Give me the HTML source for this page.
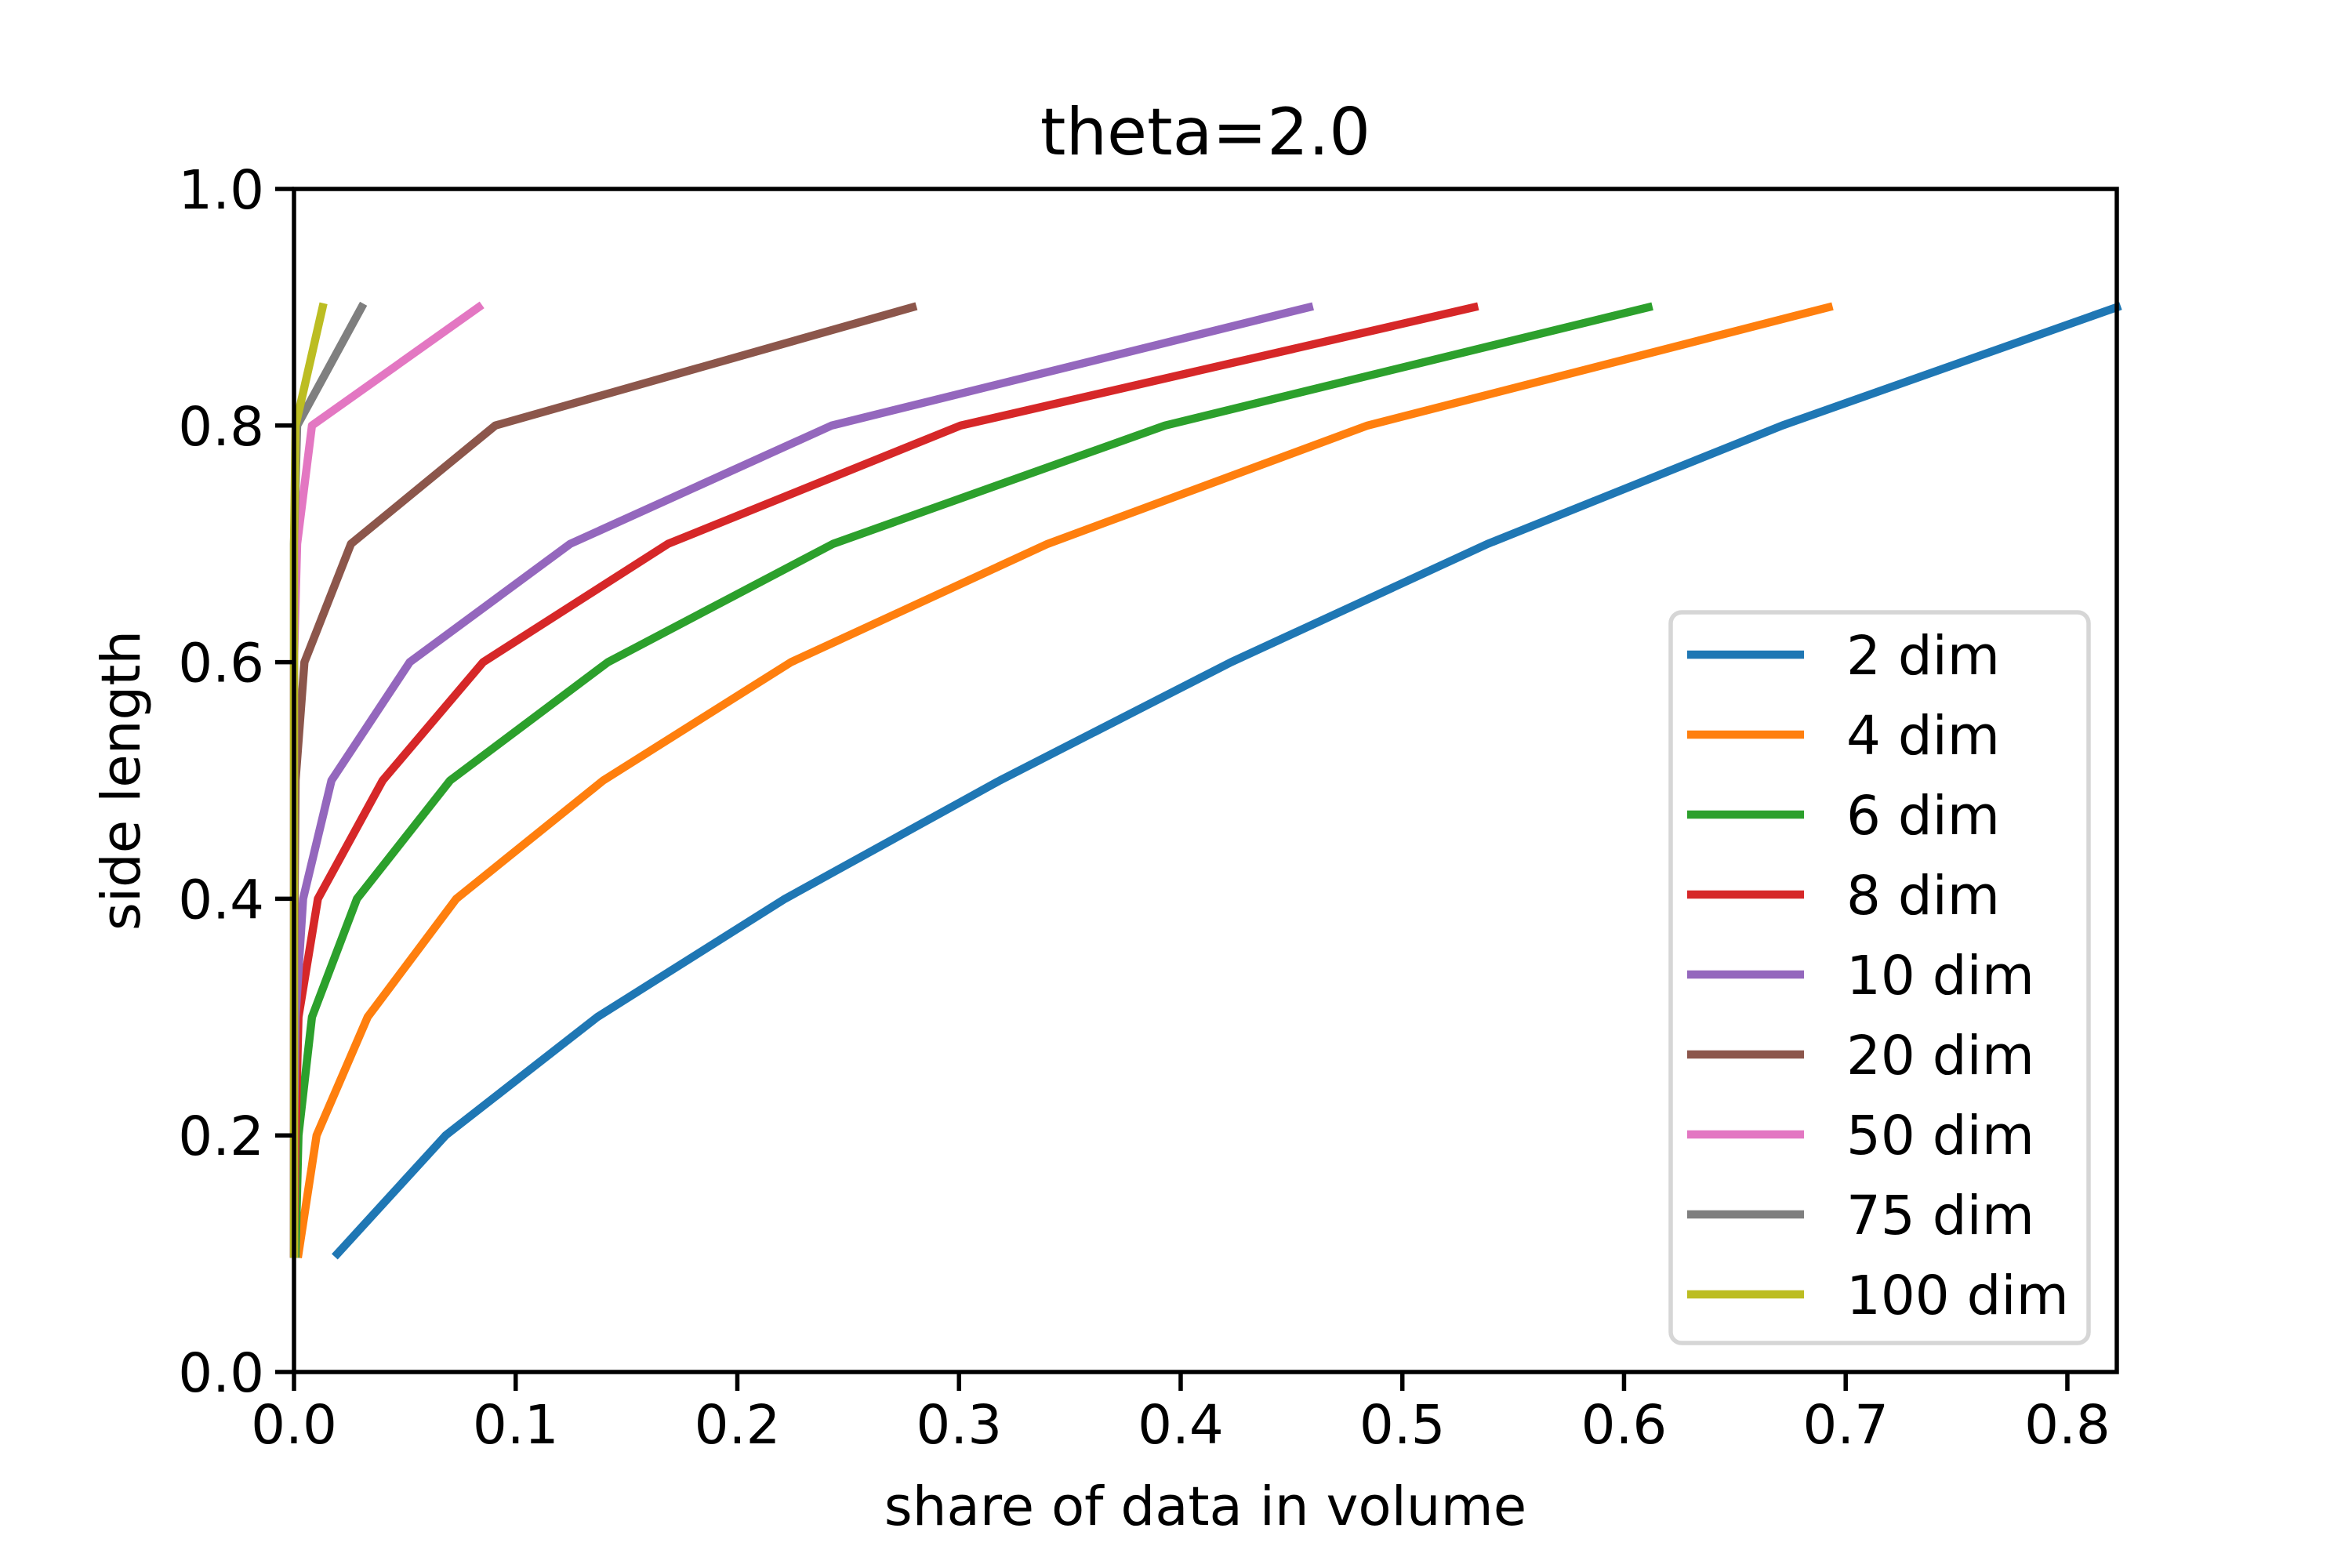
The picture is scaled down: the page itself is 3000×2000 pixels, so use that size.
<!DOCTYPE html>
<html><head><meta charset="utf-8"><style>
html,body{margin:0;padding:0;background:#fff}
svg{display:block;font-family:"DejaVu Sans","Liberation Sans",sans-serif}
</style></head><body>
<svg id="chart" width="3000" height="2000" viewBox="0 0 3000 2000" xmlns="http://www.w3.org/2000/svg">
<rect width="3000" height="2000" fill="#fff"/>
<g id="series"></g>
<g id="axes"></g>
<g id="legend"></g>
</svg>
<script>
const sides = [0.1,0.2,0.3,0.4,0.5,0.6,0.7,0.8,0.9];
const labels = ["2 dim","4 dim","6 dim","8 dim","10 dim","20 dim","50 dim","75 dim","100 dim"];
const colors = ["#1f77b4","#ff7f0e","#2ca02c","#d62728","#9467bd","#8c564b","#e377c2","#7f7f7f","#bcbd22"];
const s2 = [0.0196,0.0684,0.1368,0.2215,0.3184,0.4227,0.5385,0.6713,0.8223];
const s4 = [0.002,0.0102,0.0332,0.0732,0.1395,0.2242,0.340,0.4843,0.6923];
const s6 = [0.0007,0.002,0.0081,0.0284,0.0704,0.1416,0.2432,0.3929,0.611];
const s8 = [0,0.0007,0.002,0.0108,0.040,0.0853,0.1687,0.3007,0.5324];
const s10 = [0,0,0.0007,0.0041,0.0169,0.0522,0.1246,0.2425,0.4579];
const s20 = [0,0,0,0.0003,0.0007,0.0047,0.0257,0.0908,0.279];
const s50 = [0,0,0,0,0,0,0.0014,0.0081,0.0833];
const s75 = [0,0,0,0,0,0,0,0.0014,0.0305];
const s100 = [0,0,0,0,0,0,0,0.0007,0.0129];
const xTicks = [0,0.1,0.2,0.3,0.4,0.5,0.6,0.7,0.8];
const yTicks = [0,0.2,0.4,0.6,0.8,1.0];
const xMax = 0.8223;

const L=375,R=2700,T=241,B=1750;
const xs=v=>L+(v/xMax)*(R-L);
const ys=v=>B-(v/1)*(B-T);
const NS="http://www.w3.org/2000/svg";
function mk(tag,attrs,parent){const e=document.createElementNS(NS,tag);for(const k in attrs)e.setAttribute(k,attrs[k]);parent.appendChild(e);return e;}
const gS=document.getElementById('series'),gA=document.getElementById('axes'),gL=document.getElementById('legend');
const all=[s2,s4,s6,s8,s10,s20,s50,s75,s100];
all.forEach((arr,i)=>{
  const pts=arr.map((v,j)=>xs(v).toFixed(1)+","+ys(sides[j]).toFixed(1)).join(" ");
  const p=mk('polyline',{points:pts,fill:'none',stroke:colors[i],'stroke-width':10.4,'stroke-linecap':'square','stroke-linejoin':'round'},gS);
  
  
});
const frame=mk('rect',{x:L,y:T,width:R-L,height:B-T,fill:'none',stroke:'#000','stroke-width':5.5},gA);


xTicks.forEach(v=>{
  const x=xs(v);
  mk('line',{x1:x,y1:B,x2:x,y2:B+24,stroke:'#000','stroke-width':5.5},gA);
  const t=mk('text',{x:x,y:B+91,'font-size':69,'text-anchor':'middle'},gA);
  t.textContent=v.toFixed(1);
  
  
});
yTicks.forEach(v=>{
  const y=ys(v);
  mk('line',{x1:L-24,y1:y,x2:L,y2:y,stroke:'#000','stroke-width':5.5},gA);
  const t=mk('text',{x:L-38,y:y+25,'font-size':69,'text-anchor':'end'},gA);
  t.textContent=v.toFixed(1);
  
  
});
const title=mk('text',{x:(L+R)/2,y:197,'font-size':83,'text-anchor':'middle'},gA);
title.textContent='theta=2.0';


const xl=mk('text',{x:(L+R)/2,y:1945,'font-size':69,'text-anchor':'middle'},gA);
xl.textContent='share of data in volume';


const yl=mk('text',{x:0,y:0,'font-size':69,'text-anchor':'middle',transform:'translate(178,'+((T+B)/2)+') rotate(-90)'},gA);
yl.textContent='side length';


const box=mk('rect',{x:2131,y:781,width:533,height:932,rx:14,fill:'#fff','fill-opacity':0.8,stroke:'#d6d6d6','stroke-width':5.5},gL);


labels.forEach((lab,i)=>{
  const y=835+i*102;
  const g=mk('g',{},gL);
  
  
  mk('line',{x1:2152,y1:y,x2:2301,y2:y,stroke:colors[i],'stroke-width':10.4},g);
  const t=mk('text',{x:2355,y:y+25,'font-size':69},g);
  t.textContent=lab;
});
</script>
</body></html>
